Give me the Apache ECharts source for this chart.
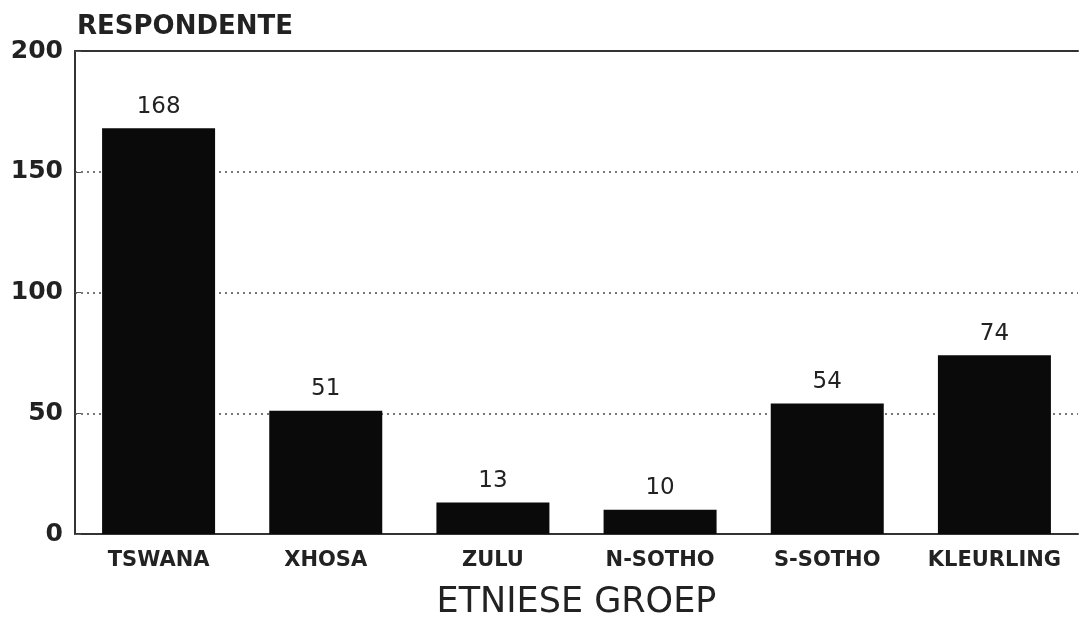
<!DOCTYPE html>
<html>
<head>
<meta charset="utf-8">
<script src="https://cdn.jsdelivr.net/npm/echarts@6/dist/echarts.min.js"></script>
<style>
  html, body { margin: 0; padding: 0; background: #fff; }
  #chart { width: 1081px; height: 625px; }
</style>
</head>
<body>
<div id="chart"></div>
<script>
const groepe = ['TSWANA', 'XHOSA', 'ZULU', 'N-SOTHO', 'S-SOTHO', 'KLEURLING'];
const respondente = [168, 51, 13, 10, 54, 74];
const yTicks = [0, 50, 100, 150, 200];

const font = 'DejaVu Sans, Verdana, sans-serif';
const myChart = echarts.init(document.getElementById('chart'));

const option = {
  backgroundColor: '#ffffff',
  animation: false,
  title: {
    text: 'RESPONDENTE',
    left: 72,
    top: 9,
    textStyle: { fontFamily: font, fontSize: 26, fontWeight: 'bold', color: '#222' }
  },
  grid: {
    left: 75,
    right: 3,
    top: 51,
    bottom: 88,
    containLabel: false
  },
  xAxis: [
    {
      type: 'category',
      data: groepe,
      name: 'ETNIESE GROEP',
      nameLocation: 'middle',
      nameGap: 51,
      nameTextStyle: { fontFamily: font, fontSize: 35, color: '#222' },
      axisLine: { show: true, lineStyle: { color: '#333', width: 2 } },
      axisTick: { show: false },
      axisLabel: {
        color: '#222',
        fontFamily: font,
        fontSize: 21,
        fontWeight: 'bold',
        margin: 16,
        interval: 0
      },
      splitLine: { show: false }
    },
    {
      type: 'category',
      position: 'top',
      data: groepe,
      axisLine: { show: true, lineStyle: { color: '#333', width: 2 } },
      axisTick: { show: false },
      axisLabel: { show: false }
    }
  ],
  yAxis: {
    type: 'value',
    min: yTicks[0],
    max: yTicks[yTicks.length - 1],
    interval: 50,
    axisLine: { show: true, lineStyle: { color: '#333', width: 2 } },
    axisTick: { show: true, inside: true, length: 6, lineStyle: { color: '#555' } },
    axisLabel: {
      color: '#222',
      fontFamily: font,
      fontSize: 25,
      fontWeight: 'bold',
      margin: 12
    },
    splitLine: {
      show: true,
      lineStyle: { color: '#777', width: 2, type: [2, 4] }
    }
  },
  series: [
    {
      name: 'Respondente',
      type: 'bar',
      data: respondente,
      barWidth: 113,
      itemStyle: { color: '#0a0a0a' },
      label: {
        show: true,
        position: 'top',
        distance: 10,
        color: '#222',
        fontFamily: font,
        fontSize: 23
      }
    }
  ]
};

myChart.setOption(option);
</script>
</body>
</html>
